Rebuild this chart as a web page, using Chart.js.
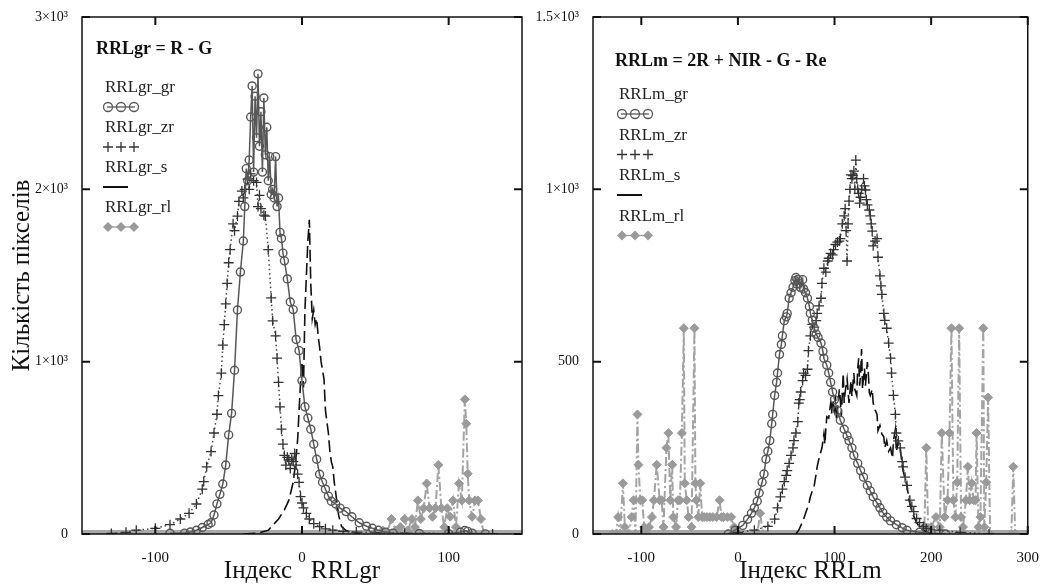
<!DOCTYPE html>
<html>
<head>
<meta charset="utf-8">
<script src="https://cdn.jsdelivr.net/npm/chart.js@4.4.0/dist/chart.umd.min.js"></script>
<style>
body { margin: 0; background: #fff; width: 1046px; height: 584px; overflow: hidden; position: relative; }
.box { position: absolute; top: 0; height: 584px; }
</style>
</head>
<body>
<div class="box" style="left:0;width:530px"><canvas id="chartL"></canvas></div>
<div class="box" style="left:530px;width:516px"><canvas id="chartR"></canvas></div>
<script>
// ---- left plot: RRLgr = R - G  ([index, pixel count])
var grL = [[-90,4],[-80,5],[-76,12],[-72,22],[-68,38],[-64,55],[-62,65],[-60,110],[-58,175],[-56,230],[-54,290],[-52,400],[-50,575],[-48,700],[-46,950],[-44,1300],[-42,1520],[-40,1700],[-39,1900],[-38,2120],[-37,2050],[-36,2170],[-35,2420],[-34,2600],[-33,2100],[-32,2540],[-31,2300],[-30,2670],[-29,2250],[-28,2450],[-27,2100],[-26,2530],[-25,2200],[-24,2360],[-23,2050],[-22,2190],[-21,1970],[-20,2000],[-19,1950],[-18,2190],[-17,1900],[-16,1950],[-15,1750],[-14,1715],[-13,1630],[-12,1585],[-10,1480],[-8,1346],[-6,1302],[-4,1129],[-2,1064],[0,890],[2,738],[4,673],[6,608],[8,521],[10,434],[12,347],[14,300],[16,260],[18,220],[20,190],[23,174],[26,150],[30,130],[34,100],[39,65],[44,45],[48,33],[52,22],[57,11],[62,5],[80,3],[100,2],[108,10],[111,20],[113,15],[116,5],[125,1]];
var zrL = [[-130,3],[-120,10],[-113,22],[-100,33],[-90,54],[-83,87],[-77,120],[-72,174],[-68,260],[-67,304],[-65,390],[-62,478],[-60,586],[-58,695],[-57,803],[-55,933],[-54,1096],[-53,1215],[-52,1335],[-51,1454],[-50,1574],[-49,1650],[-47,1800],[-46,1760],[-44,1845],[-43,1930],[-41,1990],[-40,1950],[-39,2000],[-37,2060],[-36,2000],[-35,2090],[-33,2050],[-31,2040],[-30,1900],[-29,1965],[-28,1888],[-26,1850],[-25,1845],[-23,1650],[-21,1370],[-20,1237],[-18,1150],[-17,1020],[-16,880],[-15,738],[-14,608],[-13,521],[-12,456],[-11,400],[-10,445],[-9,430],[-8,380],[-7,434],[-6,420],[-5,467],[-4,400],[-3,347],[-2,300],[-1,217],[0,180],[1,152],[3,120],[5,87],[8,60],[12,43],[16,30],[21,22],[28,15],[37,11],[50,8],[70,5],[100,3],[130,0]];
var sL = [[-40,0],[-30,5],[-23,22],[-20,50],[-16,87],[-12,140],[-9,195],[-6,300],[-5,369],[-3,543],[-2,716],[-1,880],[0,1000],[1,850],[2,1300],[3,1500],[4,1700],[5,1823],[6,1450],[7,1250],[8,1300],[9,1215],[10,1250],[11,1150],[12,1085],[13,1000],[14,950],[15,900],[16,716],[17,650],[18,586],[19,480],[20,420],[21,390],[22,300],[23,239],[24,170],[25,108],[27,43],[30,20],[33,11],[40,0]];
var rlL = [[50,0],[55,20],[58,10],[61,87],[64,20],[67,40],[70,87],[72,20],[75,87],[77,40],[79,195],[81,87],[83,150],[85,293],[87,150],[89,100],[91,150],[93,401],[95,150],[97,40],[99,150],[101,100],[103,195],[105,40],[107,293],[109,195],[111,781],[112,640],[113,350],[114,195],[116,100],[118,195],[120,195],[122,87],[124,0]];
var xTicksL = [-100, 0, 100];
var yTicksL = [0, 1000, 2000, 3000];
var yLabelsL = ['0', '1×10³', '2×10³', '3×10³'];
var namesL = ['RRLgr_gr', 'RRLgr_zr', 'RRLgr_s', 'RRLgr_rl'];

// ---- right plot: RRLm = 2R + NIR - G - Re
var grR = [[-10,0],[-3,11],[5,25],[10,43],[14,60],[17,76],[20,95],[22,119],[25,150],[27,174],[29,217],[31,240],[33,271],[35,320],[36,347],[38,402],[40,440],[41,467],[43,521],[45,550],[46,575],[48,619],[50,630],[51,640],[53,684],[55,700],[57,716],[59,735],[60,744],[61,725],[62,738],[63,727],[65,715],[67,738],[68,711],[70,700],[72,684],[74,660],[75,640],[77,620],[79,597],[81,580],[83,570],[86,554],[88,530],[89,510],[92,490],[94,467],[96,440],[98,412],[100,390],[103,358],[106,330],[110,304],[113,285],[115,271],[118,250],[120,228],[124,205],[127,184],[130,165],[134,141],[137,125],[140,108],[144,90],[147,76],[150,62],[154,49],[158,38],[164,27],[170,18],[175,11],[188,5],[200,2],[215,0]];
var zrR = [[0,5],[17,11],[31,22],[38,43],[41,76],[44,108],[46,130],[48,152],[50,170],[51,184],[53,205],[55,228],[57,250],[58,271],[60,293],[62,326],[63,380],[64,390],[65,412],[67,445],[68,467],[70,460],[72,478],[73,532],[75,575],[77,608],[79,600],[81,619],[82,640],[84,662],[86,684],[87,727],[89,771],[91,760],[93,792],[94,800],[96,814],[98,810],[99,825],[101,840],[103,847],[105,850],[106,857],[108,900],[110,923],[111,944],[112,880],[113,792],[114,900],[115,966],[116,1000],[117,1042],[118,1031],[119,1040],[120,1053],[121,1000],[122,1085],[123,1031],[124,1000],[125,988],[126,960],[127,977],[128,1000],[130,1031],[131,1010],[132,998],[133,970],[134,955],[136,940],[137,923],[138,900],[139,879],[140,836],[142,850],[144,857],[145,803],[147,749],[148,720],[149,695],[151,640],[152,620],[154,597],[156,554],[158,510],[159,467],[161,402],[163,347],[164,293],[166,270],[168,250],[170,210],[171,195],[173,165],[175,141],[178,98],[180,80],[182,65],[185,45],[188,33],[192,22],[195,16],[209,11],[230,5],[260,0]];
var sR = [[60,0],[63,11],[66,30],[68,43],[70,60],[72,76],[74,95],[75,108],[77,125],[79,141],[81,175],[82,195],[84,220],[86,240],[87,250],[89,290],[90,260],[91,304],[92,340],[94,336],[96,380],[97,350],[98,391],[100,360],[101,402],[102,330],[103,358],[105,420],[106,391],[107,340],[109,467],[110,380],[111,412],[113,450],[115,380],[117,445],[118,400],[120,467],[121,420],[123,402],[124,480],[125,510],[126,430],[127,467],[128,537],[129,420],[130,456],[131,480],[132,430],[134,499],[135,467],[136,410],[137,402],[139,420],[140,380],[142,360],[144,347],[145,300],[147,315],[149,290],[151,282],[152,250],[154,271],[156,240],[158,250],[160,220],[161,270],[163,304],[164,239],[166,270],[168,250],[170,200],[171,184],[173,160],[175,141],[177,100],[180,65],[183,45],[185,33],[188,20],[192,11],[200,0]];
var rlR = [[-130,0],[-126,0],[-124,49],[-122,0],[-119,147],[-117,20],[-113,0],[-110,49],[-108,98],[-106,0],[-104,347],[-103,201],[-101,98],[-99,98],[-97,20],[-95,0],[-92,20],[-89,49],[-87,98],[-84,201],[-81,98],[-79,98],[-77,20],[-74,250],[-72,293],[-70,98],[-68,201],[-67,49],[-64,20],[-62,98],[-60,98],[-58,293],[-56,597],[-55,147],[-53,98],[-51,49],[-48,20],[-45,597],[-44,147],[-43,98],[-41,49],[-39,147],[-37,49],[-35,49],[-32,49],[-29,49],[-26,49],[-22,49],[-19,98],[-17,49],[-15,49],[-11,49],[-7,49],[-4,20],[0,0],[20,0],[23,60],[26,0],[190,0],[193,20],[195,250],[197,0],[200,20],[205,49],[209,20],[211,293],[214,49],[217,98],[219,293],[221,597],[223,98],[225,49],[227,150],[229,597],[231,49],[233,20],[236,98],[238,195],[240,98],[242,147],[244,98],[246,98],[247,293],[249,20],[251,49],[254,597],[255,20],[257,150],[259,396],[261,0],[283,0],[285,195],[287,0]];
var xTicksR = [-100, 0, 100, 200, 300];
var yTicksR = [0, 500, 1000, 1500];
var yLabelsR = ['0', '500', '1×10³', '1.5×10³'];
var namesR = ['RRLm_gr', 'RRLm_zr', 'RRLm_s', 'RRLm_rl'];

var SERIF = '"Liberation Serif", "Times New Roman", serif';

function pts(arr) {
    return arr.map(function (p) { return { x: p[0], y: p[1] }; });
}

function makeSets(gr, zr, s, rl, names) {
    return [{
        label: names[0], data: pts(gr), showLine: true,
        borderColor: '#575757', borderWidth: 1.5,
        pointStyle: 'circle', pointRadius: 4, pointBorderWidth: 1.4,
        pointBorderColor: '#575757', pointBackgroundColor: 'rgba(0,0,0,0)'
    }, {
        label: names[1], data: pts(zr), showLine: true,
        borderColor: '#444', borderWidth: 1.5, borderDash: [1.5, 3],
        pointStyle: 'cross', pointRadius: 5, pointBorderWidth: 1.3,
        pointBorderColor: '#333'
    }, {
        label: names[2], data: pts(s), showLine: true,
        borderColor: '#111', borderWidth: 1.6, borderDash: [12, 5],
        pointRadius: 0
    }, {
        label: names[3], data: pts(rl), showLine: true,
        borderColor: '#a3a3a3', borderWidth: 2, borderDash: [9, 3, 2, 3],
        pointStyle: 'rectRot', pointRadius: 4.5, pointBorderWidth: 1,
        pointBorderColor: '#9a9a9a', pointBackgroundColor: '#9a9a9a'
    }];
}

// box, inward ticks and the grey zero band
var framePlugin = {
    id: 'frame',
    beforeDatasetsDraw: function (chart) {
        var ctx = chart.ctx, a = chart.chartArea;
        var y0 = chart.scales.y.getPixelForValue(0);
        ctx.save();
        ctx.strokeStyle = '#a8a8a8';
        ctx.lineWidth = 4;
        ctx.beginPath();
        ctx.moveTo(a.left, y0 - 2);
        ctx.lineTo(a.right, y0 - 2);
        ctx.stroke();
        ctx.restore();
    },
    afterDatasetsDraw: function (chart) {
        var ctx = chart.ctx, a = chart.chartArea;
        var sx = chart.scales.x, sy = chart.scales.y;
        ctx.save();
        ctx.strokeStyle = '#111';
        ctx.lineWidth = 1.5;
        ctx.strokeRect(a.left, a.top, a.right - a.left, a.bottom - a.top);
        ctx.lineWidth = 2;
        ctx.beginPath();
        sx.ticks.forEach(function (t) {
            var px = sx.getPixelForValue(t.value);
            ctx.moveTo(px, a.top); ctx.lineTo(px, a.top + 8);
            ctx.moveTo(px, a.bottom); ctx.lineTo(px, a.bottom - 8);
        });
        sy.ticks.forEach(function (t) {
            var py = sy.getPixelForValue(t.value);
            ctx.moveTo(a.left, py); ctx.lineTo(a.left + 8, py);
            ctx.moveTo(a.right, py); ctx.lineTo(a.right - 8, py);
        });
        ctx.stroke();
        ctx.restore();
    }
};

function drawSym(ctx, kind, x, y) {
    ctx.beginPath();
    if (kind === 'circle') {
        ctx.arc(x, y, 4.5, 0, Math.PI * 2);
        ctx.stroke();
    } else if (kind === 'cross') {
        ctx.moveTo(x - 5, y); ctx.lineTo(x + 5, y);
        ctx.moveTo(x, y - 5); ctx.lineTo(x, y + 5);
        ctx.stroke();
    } else if (kind === 'diamond') {
        ctx.moveTo(x, y - 5); ctx.lineTo(x + 5, y); ctx.lineTo(x, y + 5); ctx.lineTo(x - 5, y);
        ctx.closePath();
        ctx.fill();
    }
}

// formula and Mathcad-like legend inside the plot
var notesPlugin = {
    id: 'notes',
    afterDraw: function (chart, args, o) {
        var ctx = chart.ctx;
        var kinds = ['circle', 'cross', 'line', 'diamond'];
        var cols = ['#575757', '#333', '#111', '#9a9a9a'];
        ctx.save();
        ctx.textBaseline = 'middle';
        ctx.fillStyle = '#111';
        ctx.font = 'bold 18px ' + SERIF;
        ctx.fillText(o.title, o.x, o.y);
        o.names.forEach(function (name, i) {
            var ty = o.y0 + i * o.gap;
            var sy = ty + 19;
            ctx.fillStyle = '#222';
            ctx.font = '17px ' + SERIF;
            ctx.fillText(name, o.lx + 2, ty);
            ctx.strokeStyle = cols[i];
            ctx.fillStyle = cols[i];
            ctx.lineWidth = 1.3;
            if (kinds[i] === 'line') {
                ctx.lineWidth = 2;
                ctx.beginPath();
                ctx.moveTo(o.lx, sy); ctx.lineTo(o.lx + 25, sy);
                ctx.stroke();
            } else {
                if (kinds[i] !== 'cross') {
                    ctx.beginPath();
                    ctx.moveTo(o.lx + 4, sy); ctx.lineTo(o.lx + 32, sy);
                    ctx.stroke();
                }
                for (var k = 0; k < 3; k++) {
                    drawSym(ctx, kinds[i], o.lx + 5 + k * 13, sy);
                }
            }
        });
        ctx.restore();
    }
};

function makeChart(id, sets, xMin, xMax, yMax, xTicks, yTicks, yLabels, yWidth, padRight, xTitle, yTitle, notes) {
    return new Chart(document.getElementById(id), {
        type: 'scatter',
        data: { datasets: sets },
        options: {
            responsive: true,
            maintainAspectRatio: false,
            animation: false,
            layout: { padding: { top: 17, right: padRight, left: 0, bottom: 0 } },
            elements: { line: { tension: 0 } },
            plugins: {
                legend: { display: false },
                tooltip: { enabled: false },
                notes: notes
            },
            scales: {
                x: {
                    type: 'linear', min: xMin, max: xMax,
                    grid: { display: false },
                    border: { display: false },
                    afterBuildTicks: function (s) { s.ticks = xTicks.map(function (v) { return { value: v }; }); },
                    afterFit: function (s) { s.height = 50; },
                    ticks: {
                        padding: 7, color: '#111', maxRotation: 0,
                        font: { family: SERIF, size: 15 },
                        callback: function (v) { return String(v); }
                    },
                    title: {
                        display: true, text: xTitle, color: '#111',
                        padding: { top: 0, bottom: 0 },
                        font: { family: SERIF, size: 25, lineHeight: 1 }
                    }
                },
                y: {
                    min: 0, max: yMax,
                    grid: { display: false },
                    border: { display: false },
                    afterBuildTicks: function (s) { s.ticks = yTicks.map(function (v) { return { value: v }; }); },
                    afterFit: function (s) { s.width = yWidth; },
                    ticks: {
                        padding: 6, color: '#111',
                        font: { family: SERIF, size: 14 },
                        callback: function (v) {
                            var i = yTicks.indexOf(v);
                            return i < 0 ? '' : yLabels[i];
                        }
                    },
                    title: {
                        display: !!yTitle, text: yTitle, color: '#111',
                        padding: { top: 10, bottom: 0 },
                        font: { family: SERIF, size: 25, lineHeight: 1 }
                    }
                }
            }
        },
        plugins: [framePlugin, notesPlugin]
    });
}

makeChart('chartL', makeSets(grL, zrL, sL, rlL, namesL), -150, 150, 3000,
    xTicksL, yTicksL, yLabelsL, 82, 8, 'Індекс   RRLgr', 'Кількість пікселів',
    { title: 'RRLgr = R - G', x: 96, y: 49, names: namesL, lx: 103, y0: 88, gap: 40 });

makeChart('chartR', makeSets(grR, zrR, sR, rlR, namesR), -150, 300, 1500,
    xTicksR, yTicksR, yLabelsR, 63, 16, 'Індекс RRLm', '',
    { title: 'RRLm = 2R + NIR - G - Re', x: 85, y: 61, names: namesR, lx: 87, y0: 95, gap: 40.5 });
</script>
</body>
</html>
